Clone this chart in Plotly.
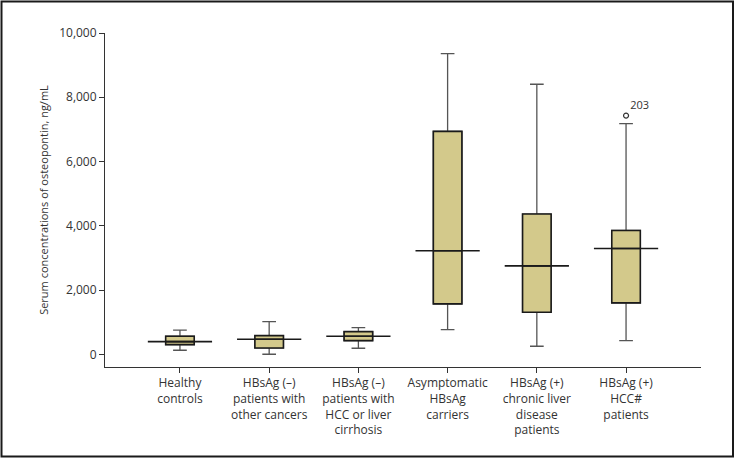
import plotly.graph_objects as go

categories = [
    "Healthy<br>controls",
    "HBsAg (–)<br>patients with<br>other cancers",
    "HBsAg (–)<br>patients with<br>HCC or liver<br>cirrhosis",
    "Asymptomatic<br>HBsAg<br>carriers",
    "HBsAg (+)<br>chronic liver<br>disease<br>patients",
    "HBsAg (+)<br>HCC#<br>patients",
]
lower_whisker = [131, 6, 193, 773, 255, 430]
q1_values = [305, 202, 430, 1573, 1315, 1604]
median_values = [399, 474, 567, 3224, 2757, 3296]
q3_values = [567, 586, 710, 6941, 4368, 3857]
upper_whisker = [754, 1022, 835, 9361, 8405, 7181]
outlier_group = [5]
outlier_values = [7430]
outlier_labels = ["203"]
y_ticks = [0, 2000, 4000, 6000, 8000, 10000]

xs = list(range(len(categories)))
BOX_W = 0.32
MED_HALF = 0.36
fill = "#D3C98B"
font = "Open Sans, Noto Sans, sans-serif"

fig = go.Figure()
# whiskers (grey)
fig.add_trace(go.Box(
    x=xs, q1=q1_values, median=median_values, q3=q3_values,
    lowerfence=lower_whisker, upperfence=upper_whisker,
    width=BOX_W, whiskerwidth=0.48, boxpoints=False,
    line=dict(color="#555555", width=1.3), fillcolor=fill,
    hoverinfo="skip", showlegend=False,
))
# boxes (dark border)
fig.add_trace(go.Box(
    x=xs, q1=q1_values, median=median_values, q3=q3_values,
    lowerfence=q1_values, upperfence=q3_values,
    width=BOX_W, whiskerwidth=0, boxpoints=False,
    line=dict(color="#1a1a1a", width=1.6), fillcolor=fill,
    hoverinfo="skip", showlegend=False,
))
# wide median lines
mx, my = [], []
for i, m in zip(xs, median_values):
    mx += [i - MED_HALF, i + MED_HALF, None]
    my += [m, m, None]
fig.add_trace(go.Scatter(
    x=mx, y=my, mode="lines", line=dict(color="#1a1a1a", width=1.6),
    hoverinfo="skip", showlegend=False,
))
# outlier
fig.add_trace(go.Scatter(
    x=outlier_group, y=outlier_values, mode="markers+text",
    marker=dict(symbol="circle-open", size=5, color="#333333", line=dict(width=1.2)),
    text=outlier_labels, textposition="top right",
    textfont=dict(size=11, color="#333333", family=font),
    hoverinfo="skip", showlegend=False,
))

fig.update_layout(
    width=735, height=458,
    margin=dict(l=105, r=34, t=33, b=91),
    paper_bgcolor="white", plot_bgcolor="white",
    font=dict(family=font, size=12, color="#333333"),
    boxmode="overlay",
)
fig.update_xaxes(
    range=[-0.84, 5.84], tickmode="array", tickvals=xs, ticktext=categories,
    showline=True, linecolor="#333333", linewidth=1,
    ticks="outside", ticklen=5, tickcolor="#333333",
    showgrid=False, zeroline=False, tickangle=0, automargin=False,
    tickfont=dict(size=12, color="#333333"),
)
fig.update_yaxes(
    range=[-390, 10000], tickmode="array", tickvals=y_ticks, tickformat=",",
    showline=True, linecolor="#333333", linewidth=1,
    ticks="outside", ticklen=5, tickcolor="#333333",
    showgrid=False, zeroline=False, automargin=False,
    tickfont=dict(size=12, color="#333333"),
    title=dict(text="Serum concentrations of osteopontin, ng/mL", standoff=8,
               font=dict(size=11, color="#333333")),
)
# outer frame
fig.add_shape(type="rect", xref="paper", yref="paper",
              x0=(1.5 - 105) / 596, x1=(733 - 105) / 596,
              y0=(367 - 456.5) / 334, y1=(367 - 1.5) / 334,
              line=dict(color="#1a1a1a", width=2), layer="above")

fig.write_html("out.html", config={"displayModeBar": False},
               post_script="document.body.style.margin='0';")
